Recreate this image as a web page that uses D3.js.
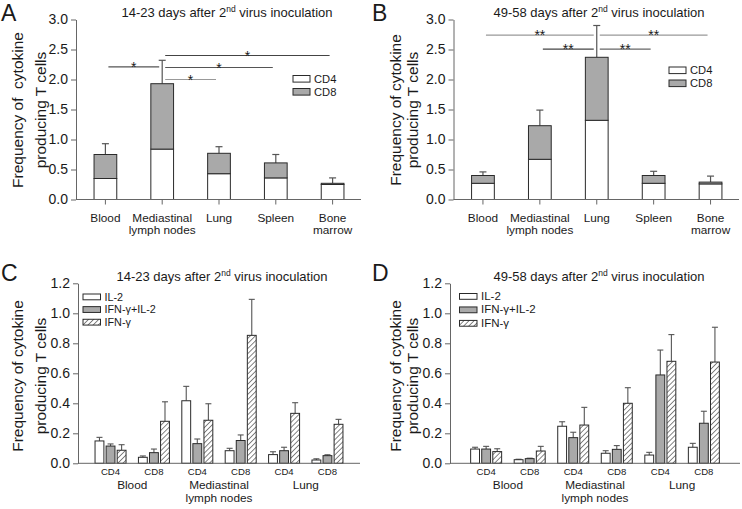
<!DOCTYPE html>
<html><head><meta charset="utf-8">
<script src="https://cdn.jsdelivr.net/npm/d3@7"></script>
<style>
body{margin:0;background:#fff}
svg{display:block}
text{font-family:"Liberation Sans",Arial,Helvetica,sans-serif;fill:#1a1a1a}
</style>
</head><body>
<svg id="chart" width="742" height="509"></svg>
<script>
// ---------- DATA ----------
const organs = ["Blood", "Mediastinal lymph nodes", "Lung", "Spleen", "Bone marrow"];
const organLabels = [["Blood"], ["Mediastinal", "lymph nodes"], ["Lung"], ["Spleen"], ["Bone", "marrow"]];
const stackKeys = ["CD4", "CD8"];

// Panel A: 14-23 days
const cd4A = [0.35, 0.84, 0.43, 0.36, 0.25];
const cd8A = [0.40, 1.09, 0.34, 0.25, 0.02];
const errA = [0.18, 0.39, 0.11, 0.14, 0.09];
const sigA = [
  {from: 0, to: 1, level: 2.21, label: "*"},
  {from: 1, to: 4, level: 2.40, label: "*"},
  {from: 1, to: 3, level: 2.20, label: "*"},
  {from: 1, to: 2, level: 2.00, label: "*"}
];

// Panel B: 49-58 days
const cd4B = [0.27, 0.67, 1.32, 0.27, 0.26];
const cd8B = [0.13, 0.56, 1.05, 0.13, 0.03];
const errB = [0.06, 0.26, 0.53, 0.07, 0.10];
const sigB = [
  {from: 0, to: 2, level: 2.74, label: "**"},
  {from: 1, to: 2, level: 2.505, label: "**"},
  {from: 2, to: 4, level: 2.74, label: "**"},
  {from: 2, to: 3, level: 2.505, label: "**"}
];

const yTicksAB = [0, 0.5, 1.0, 1.5, 2.0, 2.5, 3.0];

// Panels C/D
const subsets = ["CD4", "CD8", "CD4", "CD8", "CD4", "CD8"];
const tissueLabels = [["Blood"], ["Mediastinal", "lymph nodes"], ["Lung"]];
const cytokines = ["IL-2", "IFN-γ+IL-2", "IFN-γ"];

const il2C      = [0.149, 0.040, 0.417, 0.084, 0.058, 0.022];
const il2ErrC   = [0.024, 0.009, 0.096, 0.016, 0.019, 0.008];
const ifnIl2C   = [0.115, 0.071, 0.131, 0.152, 0.084, 0.051];
const ifnIl2ErrC= [0.014, 0.024, 0.031, 0.037, 0.023, 0.006];
const ifnC      = [0.087, 0.280, 0.287, 0.853, 0.333, 0.260];
const ifnErrC   = [0.037, 0.130, 0.110, 0.240, 0.071, 0.033];

const il2D      = [0.095, 0.024, 0.247, 0.067, 0.055, 0.107];
const il2ErrD   = [0.012, 0.003, 0.030, 0.017, 0.018, 0.026];
const ifnIl2D   = [0.095, 0.031, 0.171, 0.093, 0.589, 0.267];
const ifnIl2ErrD= [0.018, 0.003, 0.036, 0.025, 0.166, 0.080];
const ifnD      = [0.078, 0.082, 0.255, 0.400, 0.680, 0.675];
const ifnErrD   = [0.019, 0.031, 0.118, 0.104, 0.178, 0.232];

const yTicksCD = [0, 0.2, 0.4, 0.6, 0.8, 1.0, 1.2];

// ---------- STYLE ----------
const FONT = '"Liberation Sans",Arial,sans-serif';
const GRAY = "#a9a9a9";
const BAR_STROKE = "#2a2a2a";
const AXIS_COLOR = "#666";
const ERR_COLOR = "#555";
const sigColorsA = ["#555", "#444", "#555", "#999"];
const sigColorsB = ["#999", "#444", "#999", "#666"];

const svg = d3.select("#chart");
const defs = svg.append("defs");
const pat = defs.append("pattern").attr("id", "hatch")
  .attr("patternUnits", "userSpaceOnUse").attr("width", 3.6).attr("height", 3.6)
  .attr("patternTransform", "rotate(45)");
pat.append("rect").attr("width", 3.6).attr("height", 3.6).attr("fill", "#fff");
pat.append("line").attr("x1", 0).attr("y1", 0).attr("x2", 0).attr("y2", 3.6)
  .attr("stroke", "#333").attr("stroke-width", 1.2);

function title(x, y, first) {
  const t = svg.append("text").attr("x", x).attr("y", y).attr("text-anchor", "middle")
    .attr("font-size", 13);
  t.append("tspan").text(first + " 2");
  t.append("tspan").attr("dy", -5).attr("font-size", 8.5).text("nd");
  t.append("tspan").attr("dy", 5).text(" virus inoculation");
}
function panelLetter(x, y, L) {
  svg.append("text").attr("x", x).attr("y", y).attr("font-size", 23).text(L);
}
function yLabel(x1, x2, cy, line1) {
  svg.append("text").attr("transform", `translate(${x1},${cy}) rotate(-90)`)
    .attr("text-anchor", "middle").attr("font-size", 15.5).attr("xml:space", "preserve").text(line1);
  svg.append("text").attr("transform", `translate(${x2},${cy}) rotate(-90)`)
    .attr("text-anchor", "middle").attr("font-size", 15.5).text("producing T cells");
}
function styleAxis(g) {
  g.selectAll("path, line").attr("stroke", AXIS_COLOR);
  g.selectAll("text").attr("font-family", FONT).attr("fill", "#1a1a1a");
}

// ---------- STACKED PANELS (A, B) ----------
function stackedPanel(opt) {
  const {x0, x1, yTop, yBot, cd4, cd8, err, sig, sigColors, legX, legY} = opt;
  const x = d3.scaleBand().domain(organs).range([x0, x1]).paddingInner(0.6).paddingOuter(0.3);
  const y = d3.scaleLinear().domain([0, 3]).range([yBot, yTop]);
  const g = svg.append("g");

  const rows = organs.map((o, i) => ({organ: o, CD4: cd4[i], CD8: cd8[i], err: err[i]}));
  const series = d3.stack().keys(stackKeys)(rows);
  const fills = {CD4: "#fff", CD8: GRAY};

  rows.forEach(r => {
    const cx = x(r.organ) + x.bandwidth() / 2;
    const top = r.CD4 + r.CD8;
    g.append("line").attr("x1", cx).attr("x2", cx).attr("y1", y(top)).attr("y2", y(top + r.err))
      .attr("stroke", ERR_COLOR).attr("stroke-width", 1.2);
    g.append("line").attr("x1", cx - 3.5).attr("x2", cx + 3.5).attr("y1", y(top + r.err)).attr("y2", y(top + r.err))
      .attr("stroke", ERR_COLOR).attr("stroke-width", 1.2);
  });

  series.forEach(s => {
    g.selectAll(null).data(s).join("rect")
      .attr("x", d => x(d.data.organ)).attr("width", x.bandwidth())
      .attr("y", d => y(d[1])).attr("height", d => y(d[0]) - y(d[1]))
      .attr("fill", fills[s.key]).attr("stroke", BAR_STROKE).attr("stroke-width", 1);
  });

  const ya = g.append("g").attr("transform", `translate(${x0 - 1},0)`)
    .call(d3.axisLeft(y).tickValues(yTicksAB).tickFormat(d3.format(".1f")).tickSize(5).tickSizeOuter(0).tickPadding(3));
  ya.selectAll("text").attr("font-size", 14);
  styleAxis(ya);
  const xa = g.append("g").attr("transform", `translate(0,${yBot})`)
    .call(d3.axisBottom(x).tickSize(5).tickSizeOuter(0).tickFormat(""));
  xa.select(".domain").attr("d", `M${x0 - 1},0H${x1}`);
  styleAxis(xa);
  organs.forEach((o, i) => {
    const t = g.append("text").attr("x", x(o) + x.bandwidth() / 2).attr("y", yBot + 22)
      .attr("text-anchor", "middle").attr("font-size", 11.8);
    organLabels[i].forEach((ln, j) => t.append("tspan").attr("x", x(o) + x.bandwidth() / 2).attr("dy", j ? 12.5 : 0).text(ln));
  });

  sig.forEach((s, i) => {
    const a = x(organs[s.from]) + x.bandwidth() / 2 + 3;
    const b = x(organs[s.to]) + x.bandwidth() / 2 - 3;
    g.append("line").attr("x1", a).attr("x2", b).attr("y1", y(s.level)).attr("y2", y(s.level))
      .attr("stroke", sigColors[i]).attr("stroke-width", 1.2);
    g.append("text").attr("x", (a + b) / 2).attr("y", y(s.level) + 5).attr("text-anchor", "middle")
      .attr("font-size", 14).text(s.label);
  });

  stackKeys.forEach((k, i) => {
    g.append("rect").attr("x", legX).attr("y", legY + i * 13).attr("width", 17).attr("height", 6.6)
      .attr("fill", fills[k]).attr("stroke", BAR_STROKE).attr("stroke-width", 1);
    g.append("text").attr("x", legX + 21).attr("y", legY + i * 13 + 7.4).attr("font-size", 11.2).text(k);
  });
}

// ---------- GROUPED PANELS (C, D) ----------
function groupedPanel(opt) {
  const {x0, x1, yTop, yBot, vals, errs, legX, legY, legFont} = opt;
  const groups = d3.range(subsets.length);
  const x = d3.scaleBand().domain(groups).range([x0, x1]).paddingInner(0).paddingOuter(opt.pad);
  const xs = d3.scaleBand().domain(cytokines).range([-15.5, 15.5]).paddingInner(0.2);
  const y = d3.scaleLinear().domain([0, 1.2]).range([yBot, yTop]);
  const g = svg.append("g");
  const fills = ["#fff", GRAY, "url(#hatch)"];

  groups.forEach(gi => {
    const c = x(gi) + x.bandwidth() / 2;
    cytokines.forEach((k, ki) => {
      const v = vals[ki][gi], e = errs[ki][gi];
      const bx = c + xs(k);
      const cx = bx + xs.bandwidth() / 2;
      g.append("line").attr("x1", cx).attr("x2", cx).attr("y1", y(v)).attr("y2", y(v + e))
        .attr("stroke", ERR_COLOR).attr("stroke-width", 1.1);
      g.append("line").attr("x1", cx - 3).attr("x2", cx + 3).attr("y1", y(v + e)).attr("y2", y(v + e))
        .attr("stroke", ERR_COLOR).attr("stroke-width", 1.1);
      g.append("rect").attr("x", bx).attr("width", xs.bandwidth())
        .attr("y", y(v)).attr("height", y(0) - y(v))
        .attr("fill", fills[ki]).attr("stroke", BAR_STROKE).attr("stroke-width", 1);
    });
    g.append("text").attr("x", c).attr("y", yBot + 11.5).attr("text-anchor", "middle")
      .attr("font-size", 9.6).text(subsets[gi]);
  });
  tissueLabels.forEach((lines, ti) => {
    const c = (x(ti * 2) + x(ti * 2 + 1) + x.bandwidth()) / 2;
    const t = g.append("text").attr("y", yBot + 26).attr("text-anchor", "middle").attr("font-size", 11.8);
    lines.forEach((ln, j) => t.append("tspan").attr("x", c).attr("dy", j ? 12.5 : 0).text(ln));
  });

  const ya = g.append("g").attr("transform", `translate(${x0},0)`)
    .call(d3.axisLeft(y).tickValues(yTicksCD).tickFormat(d3.format(".1f")).tickSize(5).tickSizeOuter(0).tickPadding(3));
  ya.selectAll("text").attr("font-size", 14);
  styleAxis(ya);
  g.append("line").attr("x1", x0).attr("x2", x1).attr("y1", yBot).attr("y2", yBot)
    .attr("stroke", AXIS_COLOR);

  const rowH = legFont * 1.17;
  cytokines.forEach((k, i) => {
    g.append("rect").attr("x", legX).attr("y", legY + i * rowH).attr("width", 17.5).attr("height", 5.8)
      .attr("fill", fills[i]).attr("stroke", BAR_STROKE).attr("stroke-width", 1);
    g.append("text").attr("x", legX + 21.5).attr("y", legY + i * rowH + 6.5).attr("font-size", legFont).text(k);
  });
}

// ---------- DRAW ----------
panelLetter(1, 21, "A");
title(227, 16.5, "14-23 days after");
yLabel(23, 46, 110, "Frequency of  cytokine");
stackedPanel({x0: 77, x1: 361, yTop: 19.5, yBot: 199.5, cd4: cd4A, cd8: cd8A, err: errA,
  sig: sigA, sigColors: sigColorsA, legX: 293, legY: 75.5});

panelLetter(372, 21, "B");
title(599, 16.5, "49-58 days after");
yLabel(401, 418, 110, "Frequency of cytokine");
stackedPanel({x0: 454.5, x1: 739, yTop: 19.5, yBot: 199.5, cd4: cd4B, cd8: cd8B, err: errB,
  sig: sigB, sigColors: sigColorsB, legX: 669, legY: 67});

panelLetter(1, 281, "C");
title(222, 280.5, "14-23 days after");
yLabel(23, 46, 376, "Frequency of cytokine");
groupedPanel({x0: 78, x1: 360, yTop: 283.3, yBot: 463.3, pad: 0.25,
  vals: [il2C, ifnIl2C, ifnC], errs: [il2ErrC, ifnIl2ErrC, ifnErrC], legX: 83, legY: 294, legFont: 10.8});

panelLetter(372, 281, "D");
title(599, 280.5, "49-58 days after");
yLabel(401, 418, 376, "Frequency of cytokine");
groupedPanel({x0: 450, x1: 740, yTop: 283.3, yBot: 463.3, pad: 0.33,
  vals: [il2D, ifnIl2D, ifnD], errs: [il2ErrD, ifnIl2ErrD, ifnErrD], legX: 459.5, legY: 293.5, legFont: 11.5});
</script>
</body></html>
